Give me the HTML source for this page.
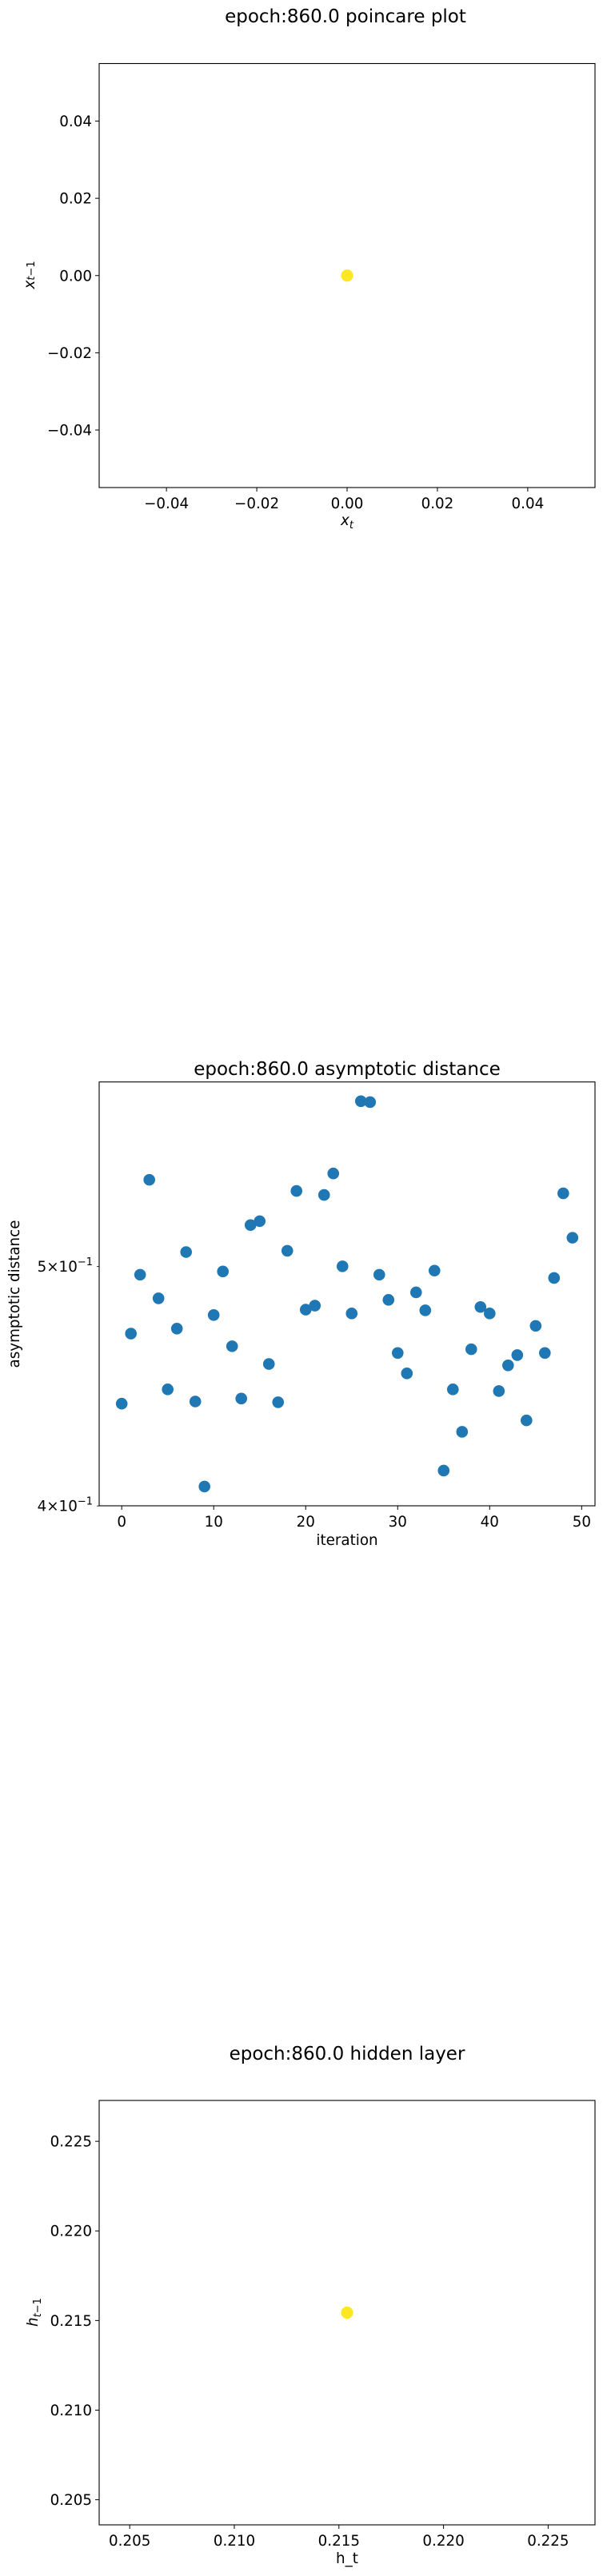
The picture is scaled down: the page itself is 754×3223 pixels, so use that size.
<!DOCTYPE html>
<html><head><meta charset="utf-8"><style>
html,body{margin:0;padding:0;background:#fff}
svg{display:block}
text{font-family:"DejaVu Sans","Liberation Sans",sans-serif;fill:#000}
</style></head><body>
<svg id="fig" width="754" height="3223" viewBox="0 0 754 3223" xmlns="http://www.w3.org/2000/svg"></svg>
<script>
// Plot 1: poincare
const poincareX = [0.0];
const poincareY = [0.0];
const poincareTicks = [-0.04, -0.02, 0.00, 0.02, 0.04];
const poincareTickLabels = ["\u22120.04", "\u22120.02", "0.00", "0.02", "0.04"];
const poincareDomain = [-0.0549, 0.0549];
// Plot 2: asymptotic distance
const iterations = [0,1,2,3,4,5,6,7,8,9,10,11,12,13,14,15,16,17,18,19,20,21,22,23,24,25,26,27,28,29,30,31,32,33,34,35,36,37,38,39,40,41,42,43,44,45,46,47,48,49];
const distances = [0.4400,0.4697,0.4962,0.5421,0.4854,0.4459,0.4719,0.5068,0.4409,0.4073,0.4779,0.4977,0.4642,0.4421,0.5197,0.5216,0.4566,0.4406,0.5074,0.5365,0.4803,0.4821,0.5345,0.5453,0.5001,0.4786,0.5833,0.5828,0.4962,0.4847,0.4613,0.4526,0.4881,0.4800,0.4981,0.4134,0.4459,0.4286,0.4629,0.4815,0.4786,0.4452,0.4560,0.4604,0.4332,0.4731,0.4613,0.4947,0.5353,0.5136];
const iterTicks = [0,10,20,30,40,50];
const distTicks = [0.4, 0.5];
const distTickMant = ["4", "5"];
// Plot 3: hidden layer
const hiddenX = [0.21539];
const hiddenY = [0.21544];
const hiddenTicks = [0.205, 0.210, 0.215, 0.220, 0.225];
const hiddenTickLabels = ["0.205", "0.210", "0.215", "0.220", "0.225"];
const hiddenXDomain = [0.20354, 0.22724];
const hiddenYDomain = [0.20360, 0.22728];

const NS = "http://www.w3.org/2000/svg";
const fig = document.getElementById('fig');
function mk(tag, attrs, parent, txt) {
  const e = document.createElementNS(NS, tag);
  for (const k in attrs) e.setAttribute(k, attrs[k]);
  if (txt !== undefined) e.textContent = txt;
  (parent || fig).appendChild(e);
  return e;
}
const L = 124, R = 744;
function linScale(d, r) { return v => r[0] + (v - d[0]) / (d[1] - d[0]) * (r[1] - r[0]); }

function frame(g, top, bottom) {
  const f = mk('rect', {x: L, y: top, width: R - L, height: bottom - top, fill: 'none', stroke: '#000', 'stroke-width': 1.1}, g);
  
  
}
function xTicks(g, ticks, labels, sx, bottom, name) {
  ticks.forEach((t, i) => {
    const x = sx(t);
    mk('line', {x1: x, x2: x, y1: bottom, y2: bottom + 5, stroke: '#000', 'stroke-width': 1}, g);
    const tl = mk('text', {x: x, y: bottom + 26, 'font-size': 18.3, 'text-anchor': 'middle'}, g, labels[i]);
    
    
  });
}
function yTicks(g, ticks, labels, sy, name) {
  ticks.forEach((t, i) => {
    const y = sy(t);
    mk('line', {x1: L - 5, x2: L, y1: y, y2: y, stroke: '#000', 'stroke-width': 1}, g);
    const tl = mk('text', {x: L - 9, y: y + 6.5, 'font-size': 18.3, 'text-anchor': 'end'}, g, labels[i]);
    
    
  });
}

// ---------- Plot 1 ----------
(function () {
  const g = mk('g', {});
  
  
  const top = 79.5, bottom = 610;
  const sx = linScale(poincareDomain, [L, R]);
  const sy = linScale(poincareDomain, [bottom, top]);
  const t = mk('text', {x: 432, y: 28, 'font-size': 23, 'text-anchor': 'middle'}, g, 'epoch:860.0 poincare plot');
  
  
  frame(g, top, bottom);
  xTicks(g, poincareTicks, poincareTickLabels, sx, bottom, 'poincare');
  yTicks(g, poincareTicks, poincareTickLabels, sy, 'poincare');
  const xl = mk('text', {x: 434, y: 657, 'font-size': 18.3, 'text-anchor': 'middle'}, g);
  
  
  mk('tspan', {'font-style': 'italic'}, xl, 'x');
  mk('tspan', {'font-style': 'italic', 'font-size': 13, dy: 4}, xl, 't');
  const yl = mk('text', {x: 0, y: 0, 'font-size': 18.3, 'text-anchor': 'middle', transform: 'translate(43,344) rotate(-90)'}, g);
  
  
  mk('tspan', {'font-style': 'italic'}, yl, 'x');
  mk('tspan', {'font-size': 13, dy: 4}, yl, '');
  mk('tspan', {'font-style': 'italic', 'font-size': 13}, yl, 't');
  mk('tspan', {'font-size': 13}, yl, '\u22121');
  poincareX.forEach((v, i) => {
    const c = mk('circle', {cx: sx(v), cy: sy(poincareY[i]), r: 7.6, fill: '#fde725'}, g);
    
    
  });
})();

// ---------- Plot 2 ----------
(function () {
  const g = mk('g', {});
  
  
  const top = 1353.7, bottom = 1884;
  const xmin = Math.min(...iterations), xmax = Math.max(...iterations);
  const xpad = (xmax - xmin) * 0.05;
  const sx = linScale([xmin - xpad, xmax + xpad], [L, R]);
  const lmin = Math.log10(Math.min(...distances)), lmax = Math.log10(Math.max(...distances));
  const lpad = (lmax - lmin) * 0.05;
  const sly = linScale([lmin - lpad, lmax + lpad], [bottom, top]);
  const sy = v => sly(Math.log10(v));
  const t = mk('text', {x: 434, y: 1345, 'font-size': 23, 'text-anchor': 'middle'}, g, 'epoch:860.0 asymptotic distance');
  
  
  frame(g, top, bottom);
  xTicks(g, iterTicks, iterTicks.map(String), sx, bottom, 'iteration');
  distTicks.forEach((d, i) => {
    const y = sy(d);
    if (y < top - 0.5 || y > bottom + 0.5) return;
    mk('line', {x1: L - 3, x2: L, y1: y, y2: y, stroke: '#000', 'stroke-width': 0.8}, g);
    const tl = mk('text', {x: L - 8, y: y + 6.5, 'font-size': 18.3, 'text-anchor': 'end'}, g);
    
    
    mk('tspan', {}, tl, distTickMant[i] + '\u00d710');
    mk('tspan', {'font-size': 13, dy: -8}, tl, '\u22121');
  });
  const xl = mk('text', {x: 434, y: 1933, 'font-size': 18.3, 'text-anchor': 'middle'}, g, 'iteration');
  
  
  const yl = mk('text', {x: 0, y: 0, 'font-size': 18.3, 'text-anchor': 'middle', transform: 'translate(24,1619) rotate(-90)'}, g, 'asymptotic distance');
  
  
  iterations.forEach((it, i) => {
    const c = mk('circle', {cx: sx(it), cy: sy(distances[i]), r: 7.3, fill: '#1f77b4'}, g);
    
    
  });
})();

// ---------- Plot 3 ----------
(function () {
  const g = mk('g', {});
  
  
  const top = 2628, bottom = 3159;
  const sx = linScale(hiddenXDomain, [L, R]);
  const sy = linScale(hiddenYDomain, [bottom, top]);
  const t = mk('text', {x: 434, y: 2577, 'font-size': 23, 'text-anchor': 'middle'}, g, 'epoch:860.0 hidden layer');
  
  
  frame(g, top, bottom);
  xTicks(g, hiddenTicks, hiddenTickLabels, sx, bottom, 'hidden');
  yTicks(g, hiddenTicks, hiddenTickLabels, sy, 'hidden');
  const xl = mk('text', {x: 434, y: 3207, 'font-size': 18.3, 'text-anchor': 'middle'}, g, 'h_t');
  
  
  const yl = mk('text', {x: 0, y: 0, 'font-size': 18.3, 'text-anchor': 'middle', transform: 'translate(47,2893) rotate(-90)'}, g);
  
  
  mk('tspan', {'font-style': 'italic'}, yl, 'h');
  mk('tspan', {'font-style': 'italic', 'font-size': 13, dy: 4}, yl, 't');
  mk('tspan', {'font-size': 13}, yl, '\u22121');
  hiddenX.forEach((v, i) => {
    const c = mk('circle', {cx: sx(v), cy: sy(hiddenY[i]), r: 7.6, fill: '#fde725'}, g);
    
    
  });
})();
</script>
</body></html>
